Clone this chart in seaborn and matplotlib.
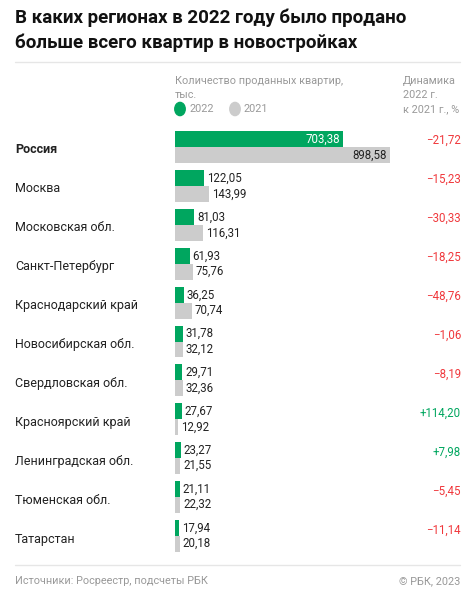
import pandas as pd
import seaborn as sns
import matplotlib.pyplot as plt

regions = ["Россия", "Москва", "Московская обл.", "Санкт-Петербург", "Краснодарский край",
           "Новосибирская обл.", "Свердловская обл.", "Красноярский край",
           "Ленинградская обл.", "Тюменская обл.", "Татарстан"]
sold_2022 = [703.38, 122.05, 81.03, 61.93, 36.25, 31.78, 29.71, 27.67, 23.27, 21.11, 17.94]
sold_2021 = [898.58, 143.99, 116.31, 75.76, 70.74, 32.12, 32.36, 12.92, 21.55, 22.32, 20.18]
change = ["−21,72", "−15,23", "−30,33", "−18,25", "−48,76", "−1,06", "−8,19",
          "+114,20", "+7,98", "−5,45", "−11,14"]

green = "#00a65f"
grey = "#cccccc"
red = "#f0383c"

df = pd.DataFrame({"region": regions * 2,
                   "value": sold_2022 + sold_2021,
                   "year": ["2022"] * len(regions) + ["2021"] * len(regions)})

sns.set_theme(style="white")
plt.rcParams['font.family'] = ['Roboto', 'DejaVu Sans']
fig = plt.figure(figsize=(4.75, 6), dpi=100)
ax = fig.add_axes([175 / 475, 45 / 600, 290 / 475, 427 / 600])
sns.barplot(data=df, y="region", x="value", hue="year", orient="h",
            palette={"2022": green, "2021": grey}, width=0.82, ax=ax, legend=False,
            saturation=1)
for p in ax.patches:
    p.set_edgecolor("none")
ax.set_xlim(0, 1213)
ax.set_ylim(10.5, -0.5)
ax.axis("off")

fs = 8.3
for i, r in enumerate(regions):
    y = 1 - (128 + 39 * i + 19.5) / 600
    fig.text(15 / 475, y - 0.004, r, fontsize=9, va="center", color="#222222",
             fontweight="bold" if i == 0 else "normal")
    col = green if change[i].startswith("+") else red
    fig.text(461 / 475, 1 - (128 + 39 * i + 12) / 600, change[i], fontsize=fs,
             ha="right", va="center", color=col)
    if i == 0:
        ax.text(sold_2022[i] - 12, i - 0.2, "703,38".replace("703,38", f"{sold_2022[i]:.2f}".replace(".", ",")),
                ha="right", va="center", color="white", fontsize=fs)
        ax.text(sold_2021[i] - 12, i + 0.2, f"{sold_2021[i]:.2f}".replace(".", ","),
                ha="right", va="center", color="#222222", fontsize=fs)
    else:
        ax.text(sold_2022[i] + 12, i - 0.2, f"{sold_2022[i]:.2f}".replace(".", ","),
                ha="left", va="center", color="#222222", fontsize=fs)
        ax.text(sold_2021[i] + 12, i + 0.2, f"{sold_2021[i]:.2f}".replace(".", ","),
                ha="left", va="center", color="#222222", fontsize=fs)

fig.text(15 / 475, 1 - 18 / 600, "В каких регионах в 2022 году было продано", fontsize=13.5,
         fontweight="bold", va="center", color="#111111")
fig.text(15 / 475, 1 - 43 / 600, "больше всего квартир в новостройках", fontsize=13.5,
         fontweight="bold", va="center", color="#111111")
fig.add_artist(plt.Line2D([15 / 475, 460 / 475], [1 - 62 / 600] * 2, color="#e6e6e6", lw=1))

hc = "#999999"
fig.text(175 / 475, 1 - 81 / 600, "Количество проданных квартир,", fontsize=7.8, color=hc, va="center")
fig.text(175 / 475, 1 - 95 / 600, "тыс.", fontsize=7.8, color=hc, va="center")
fig.scatter = None
fig.add_artist(plt.Circle((180 / 475, 1 - 109 / 600), 0.011, color=green, transform=fig.transFigure))
fig.text(189 / 475, 1 - 109 / 600, "2022", fontsize=7.8, color=hc, va="center")
fig.add_artist(plt.Circle((235 / 475, 1 - 109 / 600), 0.011, color=grey, transform=fig.transFigure))
fig.text(244 / 475, 1 - 109 / 600, "2021", fontsize=7.8, color=hc, va="center")
fig.text(403 / 475, 1 - 81 / 600, "Динамика", fontsize=7.8, color=hc, va="center")
fig.text(403 / 475, 1 - 95 / 600, "2022 г.", fontsize=7.8, color=hc, va="center")
fig.text(403 / 475, 1 - 109 / 600, "к 2021 г., %", fontsize=7.8, color=hc, va="center")

fig.add_artist(plt.Line2D([15 / 475, 460 / 475], [1 - 565 / 600] * 2, color="#e6e6e6", lw=1))
fig.text(15 / 475, 1 - 581 / 600, "Источники: Росреестр, подсчеты РБК", fontsize=7.8, color=hc, va="center")
fig.text(460 / 475, 1 - 581 / 600, "© РБК, 2023", fontsize=7.8, color=hc, va="center", ha="right")

fig.savefig("out.png", dpi=100, facecolor="white")
